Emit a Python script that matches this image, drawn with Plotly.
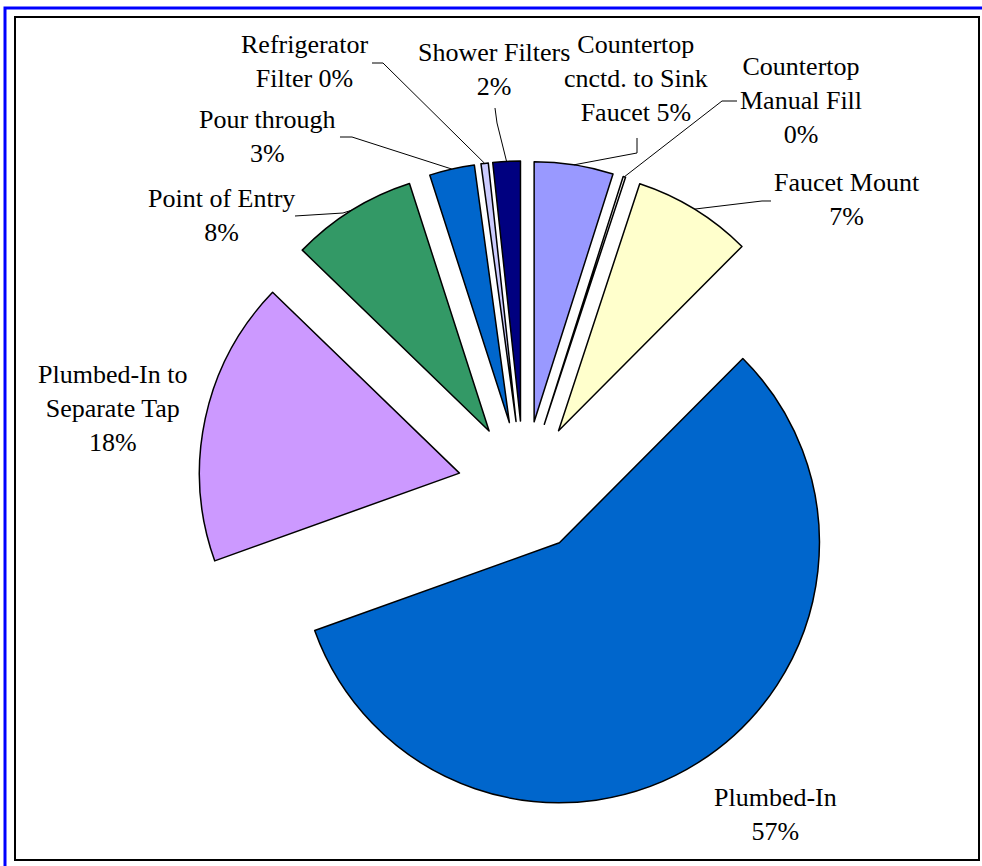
import math
import plotly.graph_objects as go

# ---------------- data ----------------
labels = [
    "Countertop cnctd. to Sink Faucet",
    "Countertop Manual Fill",
    "Faucet Mount",
    "Plumbed-In",
    "Plumbed-In to Separate Tap",
    "Point of Entry",
    "Pour through",
    "Refrigerator Filter",
    "Shower Filters",
]
values = [4.9, 0.15, 7.4, 57.0, 17.7, 7.8, 2.8, 0.45, 1.7]
# how each label is broken into lines on the chart, and what joins it to the percent
label_lines = [
    "Countertop<br>cnctd. to Sink<br>Faucet",
    "Countertop<br>Manual Fill",
    "Faucet Mount",
    "Plumbed-In",
    "Plumbed-In to<br>Separate Tap",
    "Point of Entry",
    "Pour through",
    "Refrigerator<br>Filter",
    "Shower Filters",
]
pct_joiner = [" ", "<br>", "<br>", "<br>", "<br>", "<br>", "<br>", " ", "<br>"]
colors = ["#9999FF", "#FFFFFF", "#FFFFCC", "#0066CC", "#CC99FF",
          "#339966", "#0066CC", "#CCCCFF", "#000080"]

# ---------------- layout constants (pixels) ----------------
W, H = 982, 866
CX, CY, R, PULL = 524, 487, 260, 0.254
FONT = "Liberation Serif, Times New Roman, serif"
FS = 26

# label centres
label_pos = [(636, 79), (801, 101), (847, 200), (775, 814), (113, 408),
             (221, 215), (267, 137), (304, 62), (494, 69)]
# leader-line points (from label side) before reaching the slice arc
leader_pts = {
    0: [(637, 138), (637, 153)],
    1: [(737, 101), (722, 101)],
    2: [(771, 201), (762, 201)],
    5: [(295, 216), (343, 213)],
    6: [(340, 137), (352, 137)],
    7: [(372, 63), (383, 63)],
    8: [(495, 108), (497, 123)],
}


def px(x):
    return x / W


def py(y):
    return 1 - y / H


half = R * (1 + PULL)
domain = dict(x=[px(CX - half), px(CX + half)], y=[py(CY + half), py(CY - half)])

fig = go.Figure(go.Pie(
    labels=labels,
    values=values,
    sort=False,
    direction="clockwise",
    rotation=0,
    pull=[PULL] * len(values),
    marker=dict(colors=colors, line=dict(color="black", width=1.5)),
    textinfo="none",
    hoverinfo="label+percent",
    domain=domain,
    showlegend=False,
))

total = sum(values)
annotations = []
shapes = []
cum = 0.0
for i, v in enumerate(values):
    mid = (cum + v / 2) / total * 360.0
    cum += v
    pct = round(v / total * 100)
    text = f"{label_lines[i]}{pct_joiner[i]}{pct}%"
    lx, ly = label_pos[i]
    annotations.append(dict(
        x=px(lx), y=py(ly), xref="paper", yref="paper",
        text=text, showarrow=False, xanchor="center", yanchor="middle",
        font=dict(family=FONT, size=FS, color="black"), align="center",
    ))
    if i in leader_pts:
        a = math.radians(mid)
        tip = (CX + R * (1 + PULL) * math.sin(a), CY - R * (1 + PULL) * math.cos(a))
        pts = leader_pts[i] + [tip]
        path = "M " + " L ".join(f"{px(x):.5f},{py(y):.5f}" for x, y in pts)
        shapes.append(dict(type="path", xref="paper", yref="paper", path=path,
                           line=dict(color="black", width=1)))

# frame: blue outer border (top & left) and black inner rectangle
shapes.append(dict(type="path", xref="paper", yref="paper",
                   path=f"M {px(5)},{py(870)} L {px(5)},{py(8)} L {px(990)},{py(8)}",
                   line=dict(color="#0000FF", width=3)))
shapes.append(dict(type="rect", xref="paper", yref="paper",
                   x0=px(15), y0=py(860), x1=px(979), y1=py(17),
                   line=dict(color="black", width=2)))

fig.update_layout(
    width=W, height=H,
    margin=dict(l=0, r=0, t=0, b=0),
    paper_bgcolor="white",
    plot_bgcolor="white",
    annotations=annotations,
    shapes=shapes,
    font=dict(family=FONT, size=FS, color="black"),
)

fig.write_html("out.html", config={"displayModeBar": False},
               post_script="document.body.style.margin='0';")
